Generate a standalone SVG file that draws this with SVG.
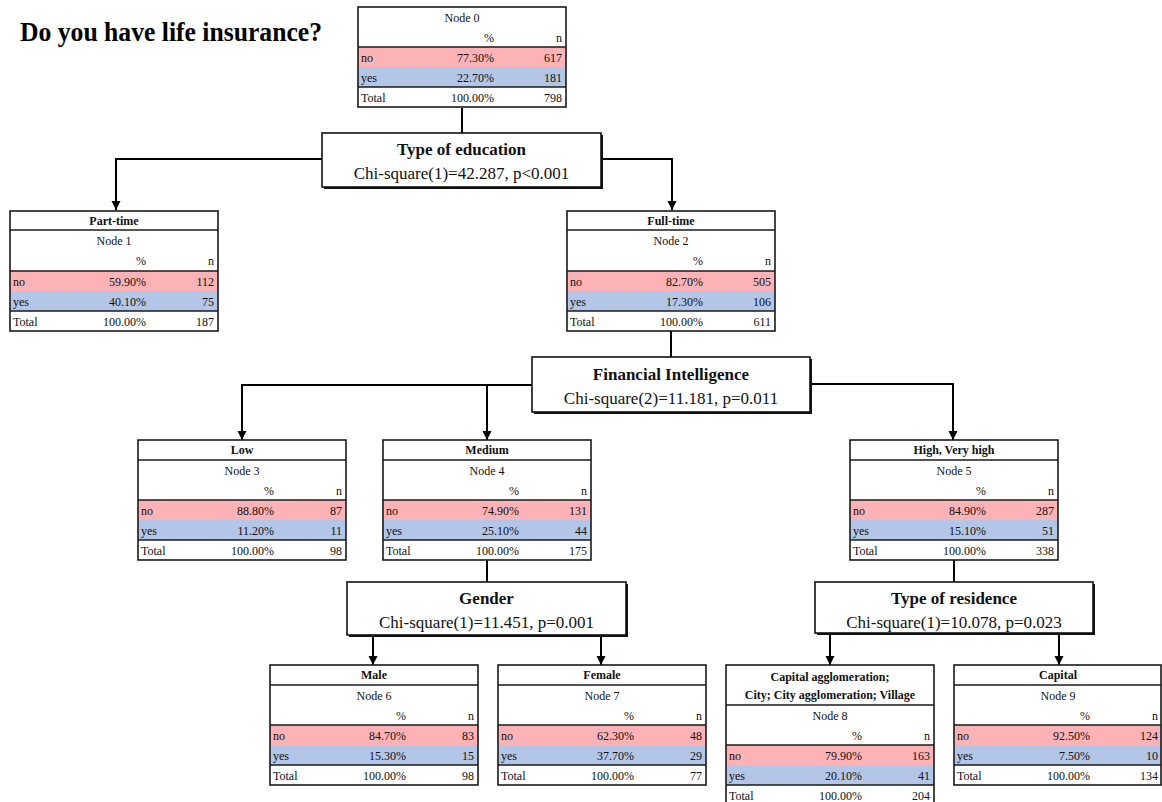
<svg xmlns="http://www.w3.org/2000/svg" width="1162" height="802" viewBox="0 0 1162 802">
<defs>
<marker id="arr" viewBox="0 0 10 10" refX="10" refY="5" markerWidth="9" markerHeight="10" markerUnits="userSpaceOnUse" orient="auto">
<path d="M0,0 L10,5 L0,10 z" fill="#000"/>
</marker>
<style>
text{font-family:"Liberation Serif","Times New Roman",serif;fill:#111}
.t{font-size:12px}
.h{font-size:12px;font-weight:bold;text-anchor:middle}
.c{text-anchor:middle}
.e{text-anchor:end}
.no{fill:#FDB3B5}
.yes{fill:#B4C6E7}
.bg{fill:#fff}
.frame{fill:none;stroke:#1a1a1a;stroke-width:1.6}
.sep{stroke:#1a1a1a;stroke-width:1.6}
.dbox{fill:#fff;stroke:#111;stroke-width:1.6}
.dsh{fill:#111}
.dt{font-size:17px;font-weight:bold;text-anchor:middle}
.dc{font-size:17px;text-anchor:middle}
.ln{fill:none;stroke:#000;stroke-width:2}
</style>
</defs>
<rect width="1162" height="802" fill="#fff"/>
<text x="20" y="41" font-size="28" font-weight="bold" textLength="302" lengthAdjust="spacingAndGlyphs" style="fill:#000">Do you have life insurance?</text>

<g id="connectors">
<path class="ln" d="M462,108 V133"/>
<path class="ln" d="M322,159 H116 V210" marker-end="url(#arr)"/>
<path class="ln" d="M601,159 H672 V210" marker-end="url(#arr)"/>
<path class="ln" d="M671,331 V357"/>
<path class="ln" d="M532,385 H242 V440" marker-end="url(#arr)"/>
<path class="ln" d="M487,385 V440" marker-end="url(#arr)"/>
<path class="ln" d="M810,384 H953 V440" marker-end="url(#arr)"/>
<path class="ln" d="M487,560 V582"/>
<path class="ln" d="M373,636 V665" marker-end="url(#arr)"/>
<path class="ln" d="M601,636 V665" marker-end="url(#arr)" stroke-width="2.6"/>
<path class="ln" d="M954,560 V582"/>
<path class="ln" d="M830,634 V665" marker-end="url(#arr)"/>
<path class="ln" d="M1059,634 V665" marker-end="url(#arr)"/>
</g>

<g id="node0" transform="translate(358,7)">
<rect class="bg" x="0" y="0" width="208" height="100"/>
<text class="t c" x="104" y="15">Node 0</text>
<text class="t e" x="136" y="35">%</text><text class="t e" x="204" y="35">n</text>
<rect class="no" x="0" y="40" width="208" height="20"/>
<rect class="yes" x="0" y="60" width="208" height="20"/>
<line class="sep" x1="0" y1="40" x2="208" y2="40"/>
<line class="sep" x1="0" y1="80" x2="208" y2="80"/>
<text class="t" x="3" y="55">no</text><text class="t e" x="136" y="55">77.30%</text><text class="t e" x="204" y="55">617</text>
<text class="t" x="3" y="75">yes</text><text class="t e" x="136" y="75">22.70%</text><text class="t e" x="204" y="75">181</text>
<text class="t" x="3" y="95">Total</text><text class="t e" x="136" y="95">100.00%</text><text class="t e" x="204" y="95">798</text>
<rect class="frame" x="0" y="0" width="208" height="100"/>
</g>

<g id="split1" transform="translate(322,133)">
<rect class="dsh" x="2" y="2" width="279" height="54"/>
<rect class="dbox" x="0" y="0" width="279" height="54"/>
<text class="dt" x="139.5" y="22">Type of education</text>
<text class="dc" x="139.5" y="46">Chi-square(1)=42.287, p&lt;0.001</text>
</g>

<g id="node1" transform="translate(10,211)">
<rect class="bg" x="0" y="0" width="208" height="120"/>
<text class="h" x="104" y="14">Part-time</text>
<line class="sep" x1="0" y1="19" x2="208" y2="19"/>
<text class="t c" x="104" y="34">Node 1</text>
<text class="t e" x="136" y="54">%</text><text class="t e" x="204" y="54">n</text>
<rect class="no" x="0" y="60" width="208" height="20"/>
<rect class="yes" x="0" y="80" width="208" height="20"/>
<line class="sep" x1="0" y1="60" x2="208" y2="60"/>
<line class="sep" x1="0" y1="100" x2="208" y2="100"/>
<text class="t" x="3" y="75">no</text><text class="t e" x="136" y="75">59.90%</text><text class="t e" x="204" y="75">112</text>
<text class="t" x="3" y="95">yes</text><text class="t e" x="136" y="95">40.10%</text><text class="t e" x="204" y="95">75</text>
<text class="t" x="3" y="115">Total</text><text class="t e" x="136" y="115">100.00%</text><text class="t e" x="204" y="115">187</text>
<rect class="frame" x="0" y="0" width="208" height="120"/>
</g>

<g id="node2" transform="translate(567,211)">
<rect class="bg" x="0" y="0" width="208" height="120"/>
<text class="h" x="104" y="14">Full-time</text>
<line class="sep" x1="0" y1="19" x2="208" y2="19"/>
<text class="t c" x="104" y="34">Node 2</text>
<text class="t e" x="136" y="54">%</text><text class="t e" x="204" y="54">n</text>
<rect class="no" x="0" y="60" width="208" height="20"/>
<rect class="yes" x="0" y="80" width="208" height="20"/>
<line class="sep" x1="0" y1="60" x2="208" y2="60"/>
<line class="sep" x1="0" y1="100" x2="208" y2="100"/>
<text class="t" x="3" y="75">no</text><text class="t e" x="136" y="75">82.70%</text><text class="t e" x="204" y="75">505</text>
<text class="t" x="3" y="95">yes</text><text class="t e" x="136" y="95">17.30%</text><text class="t e" x="204" y="95">106</text>
<text class="t" x="3" y="115">Total</text><text class="t e" x="136" y="115">100.00%</text><text class="t e" x="204" y="115">611</text>
<rect class="frame" x="0" y="0" width="208" height="120"/>
</g>

<g id="split2" transform="translate(532,357)">
<rect class="dsh" x="2" y="2" width="278" height="55"/>
<rect class="dbox" x="0" y="0" width="278" height="55"/>
<text class="dt" x="139" y="23">Financial Intelligence</text>
<text class="dc" x="139" y="47">Chi-square(2)=11.181, p=0.011</text>
</g>

<g id="node3" transform="translate(138,440)">
<rect class="bg" x="0" y="0" width="208" height="120"/>
<text class="h" x="104" y="14">Low</text>
<line class="sep" x1="0" y1="20" x2="208" y2="20"/>
<text class="t c" x="104" y="35">Node 3</text>
<text class="t e" x="136" y="55">%</text><text class="t e" x="204" y="55">n</text>
<rect class="no" x="0" y="60" width="208" height="20"/>
<rect class="yes" x="0" y="80" width="208" height="20"/>
<line class="sep" x1="0" y1="60" x2="208" y2="60"/>
<line class="sep" x1="0" y1="100" x2="208" y2="100"/>
<text class="t" x="3" y="75">no</text><text class="t e" x="136" y="75">88.80%</text><text class="t e" x="204" y="75">87</text>
<text class="t" x="3" y="95">yes</text><text class="t e" x="136" y="95">11.20%</text><text class="t e" x="204" y="95">11</text>
<text class="t" x="3" y="115">Total</text><text class="t e" x="136" y="115">100.00%</text><text class="t e" x="204" y="115">98</text>
<rect class="frame" x="0" y="0" width="208" height="120"/>
</g>

<g id="node4" transform="translate(383,440)">
<rect class="bg" x="0" y="0" width="208" height="120"/>
<text class="h" x="104" y="14">Medium</text>
<line class="sep" x1="0" y1="20" x2="208" y2="20"/>
<text class="t c" x="104" y="35">Node 4</text>
<text class="t e" x="136" y="55">%</text><text class="t e" x="204" y="55">n</text>
<rect class="no" x="0" y="60" width="208" height="20"/>
<rect class="yes" x="0" y="80" width="208" height="20"/>
<line class="sep" x1="0" y1="60" x2="208" y2="60"/>
<line class="sep" x1="0" y1="100" x2="208" y2="100"/>
<text class="t" x="3" y="75">no</text><text class="t e" x="136" y="75">74.90%</text><text class="t e" x="204" y="75">131</text>
<text class="t" x="3" y="95">yes</text><text class="t e" x="136" y="95">25.10%</text><text class="t e" x="204" y="95">44</text>
<text class="t" x="3" y="115">Total</text><text class="t e" x="136" y="115">100.00%</text><text class="t e" x="204" y="115">175</text>
<rect class="frame" x="0" y="0" width="208" height="120"/>
</g>

<g id="node5" transform="translate(850,440)">
<rect class="bg" x="0" y="0" width="208" height="120"/>
<text class="h" x="104" y="14">High, Very high</text>
<line class="sep" x1="0" y1="20" x2="208" y2="20"/>
<text class="t c" x="104" y="35">Node 5</text>
<text class="t e" x="136" y="55">%</text><text class="t e" x="204" y="55">n</text>
<rect class="no" x="0" y="60" width="208" height="20"/>
<rect class="yes" x="0" y="80" width="208" height="20"/>
<line class="sep" x1="0" y1="60" x2="208" y2="60"/>
<line class="sep" x1="0" y1="100" x2="208" y2="100"/>
<text class="t" x="3" y="75">no</text><text class="t e" x="136" y="75">84.90%</text><text class="t e" x="204" y="75">287</text>
<text class="t" x="3" y="95">yes</text><text class="t e" x="136" y="95">15.10%</text><text class="t e" x="204" y="95">51</text>
<text class="t" x="3" y="115">Total</text><text class="t e" x="136" y="115">100.00%</text><text class="t e" x="204" y="115">338</text>
<rect class="frame" x="0" y="0" width="208" height="120"/>
</g>

<g id="split3" transform="translate(347,582)">
<rect class="dsh" x="2" y="2" width="279" height="53"/>
<rect class="dbox" x="0" y="0" width="279" height="53"/>
<text class="dt" x="139.5" y="22">Gender</text>
<text class="dc" x="139.5" y="46">Chi-square(1)=11.451, p=0.001</text>
</g>

<g id="split4" transform="translate(815,582)">
<rect class="dsh" x="2" y="2" width="278" height="51"/>
<rect class="dbox" x="0" y="0" width="278" height="51"/>
<text class="dt" x="139" y="22">Type of residence</text>
<text class="dc" x="139" y="46">Chi-square(1)=10.078, p=0.023</text>
</g>

<g id="node6" transform="translate(270,665)">
<rect class="bg" x="0" y="0" width="208" height="120"/>
<text class="h" x="104" y="14">Male</text>
<line class="sep" x1="0" y1="20" x2="208" y2="20"/>
<text class="t c" x="104" y="35">Node 6</text>
<text class="t e" x="136" y="55">%</text><text class="t e" x="204" y="55">n</text>
<rect class="no" x="0" y="60" width="208" height="20"/>
<rect class="yes" x="0" y="80" width="208" height="20"/>
<line class="sep" x1="0" y1="60" x2="208" y2="60"/>
<line class="sep" x1="0" y1="100" x2="208" y2="100"/>
<text class="t" x="3" y="75">no</text><text class="t e" x="136" y="75">84.70%</text><text class="t e" x="204" y="75">83</text>
<text class="t" x="3" y="95">yes</text><text class="t e" x="136" y="95">15.30%</text><text class="t e" x="204" y="95">15</text>
<text class="t" x="3" y="115">Total</text><text class="t e" x="136" y="115">100.00%</text><text class="t e" x="204" y="115">98</text>
<rect class="frame" x="0" y="0" width="208" height="120"/>
</g>

<g id="node7" transform="translate(498,665)">
<rect class="bg" x="0" y="0" width="208" height="120"/>
<text class="h" x="104" y="14">Female</text>
<line class="sep" x1="0" y1="20" x2="208" y2="20"/>
<text class="t c" x="104" y="35">Node 7</text>
<text class="t e" x="136" y="55">%</text><text class="t e" x="204" y="55">n</text>
<rect class="no" x="0" y="60" width="208" height="20"/>
<rect class="yes" x="0" y="80" width="208" height="20"/>
<line class="sep" x1="0" y1="60" x2="208" y2="60"/>
<line class="sep" x1="0" y1="100" x2="208" y2="100"/>
<text class="t" x="3" y="75">no</text><text class="t e" x="136" y="75">62.30%</text><text class="t e" x="204" y="75">48</text>
<text class="t" x="3" y="95">yes</text><text class="t e" x="136" y="95">37.70%</text><text class="t e" x="204" y="95">29</text>
<text class="t" x="3" y="115">Total</text><text class="t e" x="136" y="115">100.00%</text><text class="t e" x="204" y="115">77</text>
<rect class="frame" x="0" y="0" width="208" height="120"/>
</g>

<g id="node8" transform="translate(726,665)">
<rect class="bg" x="0" y="0" width="208" height="140"/>
<text class="h" x="104" y="16">Capital agglomeration;</text>
<text class="h" x="104" y="34">City; City agglomeration; Village</text>
<line class="sep" x1="0" y1="40" x2="208" y2="40"/>
<text class="t c" x="104" y="55">Node 8</text>
<text class="t e" x="136" y="75">%</text><text class="t e" x="204" y="75">n</text>
<rect class="no" x="0" y="80" width="208" height="20"/>
<rect class="yes" x="0" y="100" width="208" height="20"/>
<line class="sep" x1="0" y1="80" x2="208" y2="80"/>
<line class="sep" x1="0" y1="120" x2="208" y2="120"/>
<text class="t" x="3" y="95">no</text><text class="t e" x="136" y="95">79.90%</text><text class="t e" x="204" y="95">163</text>
<text class="t" x="3" y="115">yes</text><text class="t e" x="136" y="115">20.10%</text><text class="t e" x="204" y="115">41</text>
<text class="t" x="3" y="135">Total</text><text class="t e" x="136" y="135">100.00%</text><text class="t e" x="204" y="135">204</text>
<rect class="frame" x="0" y="0" width="208" height="140"/>
</g>

<g id="node9" transform="translate(954,665)">
<rect class="bg" x="0" y="0" width="207" height="120"/>
<text class="h" x="104" y="14">Capital</text>
<line class="sep" x1="0" y1="20" x2="207" y2="20"/>
<text class="t c" x="104" y="35">Node 9</text>
<text class="t e" x="136" y="55">%</text><text class="t e" x="204" y="55">n</text>
<rect class="no" x="0" y="60" width="207" height="20"/>
<rect class="yes" x="0" y="80" width="207" height="20"/>
<line class="sep" x1="0" y1="60" x2="207" y2="60"/>
<line class="sep" x1="0" y1="100" x2="207" y2="100"/>
<text class="t" x="3" y="75">no</text><text class="t e" x="136" y="75">92.50%</text><text class="t e" x="204" y="75">124</text>
<text class="t" x="3" y="95">yes</text><text class="t e" x="136" y="95">7.50%</text><text class="t e" x="204" y="95">10</text>
<text class="t" x="3" y="115">Total</text><text class="t e" x="136" y="115">100.00%</text><text class="t e" x="204" y="115">134</text>
<rect class="frame" x="0" y="0" width="207" height="120"/>
</g>
</svg>
